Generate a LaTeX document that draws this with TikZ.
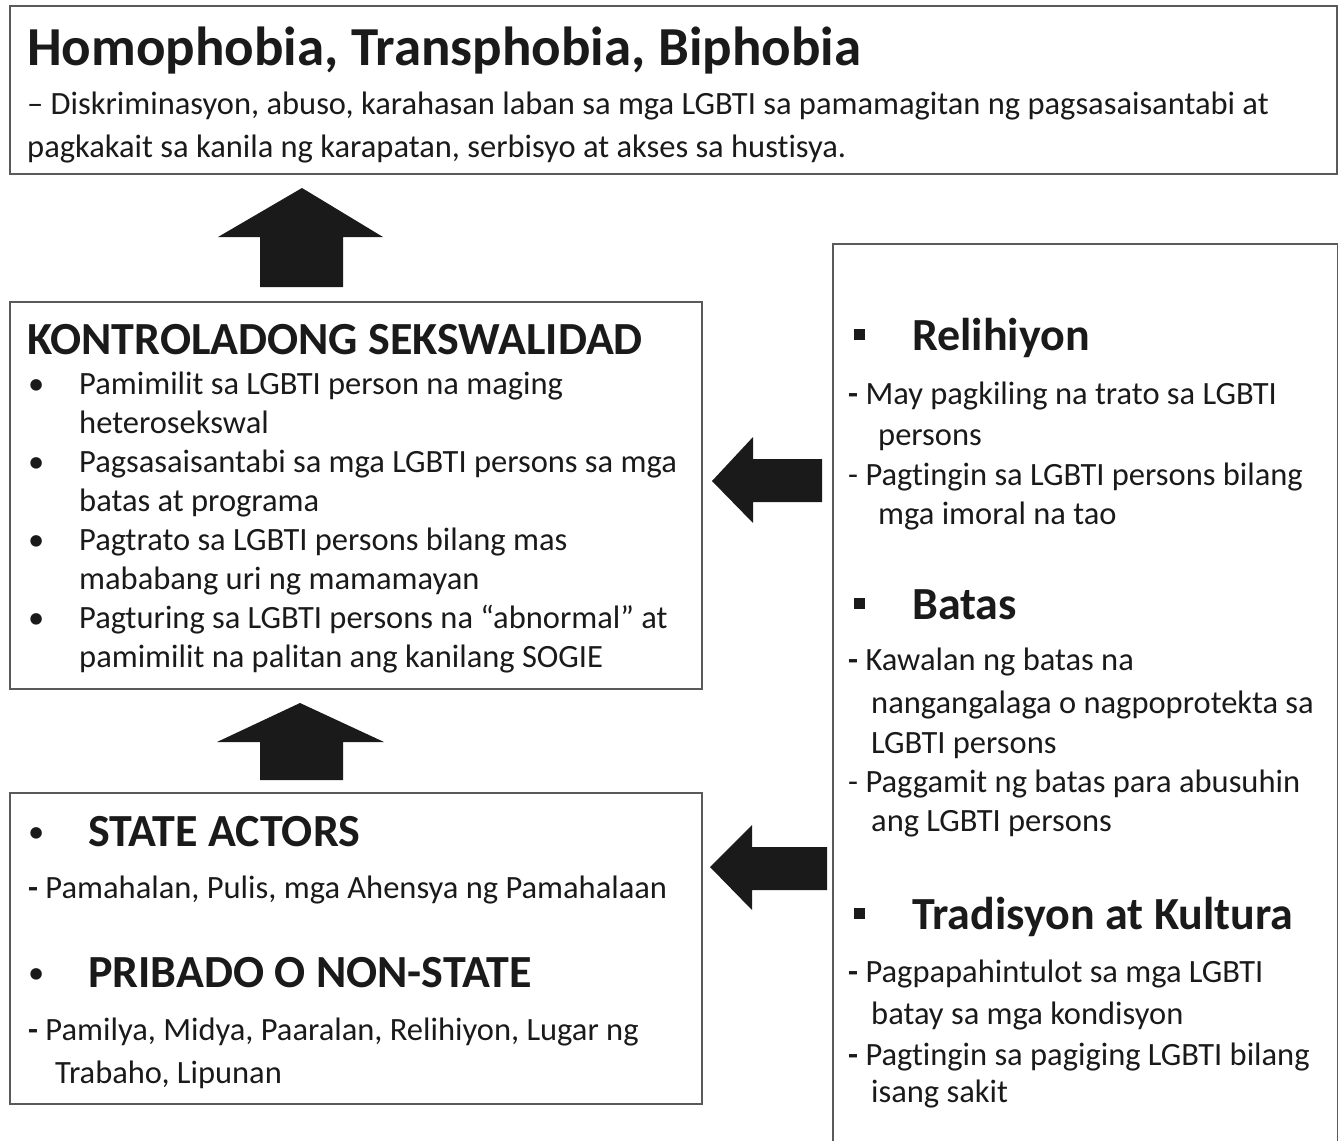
\documentclass[tikz,border=0pt]{standalone}
\usepackage{fontspec}
\setmainfont{Carlito}[Ligatures=NoCommon]
\definecolor{ink}{HTML}{1A1A1A}
\definecolor{frame}{HTML}{5A5A5A}
\tikzset{
	panel/.style={draw=frame, line width=1.8pt, anchor=north west, inner sep=0pt},
	txt/.style={anchor=base west, inner sep=0pt, text=ink, font=\fontsize{32.5}{38}\selectfont},
	head/.style={txt, font=\fontsize{46}{54}\selectfont\bfseries},
	sqbullet/.style={fill=ink, minimum size=11pt, inner sep=0pt},
	blockarrow/.style={fill=ink}
}
\begin{document}
\begin{tikzpicture}[x=1pt, y=-1pt]
		\useasboundingbox (0,0) rectangle (1338,1140);
		
		% Effect box
		\node[panel, minimum width=1327pt, minimum height=168pt] (effect) at (9,5) {};
		\node[txt, font=\fontsize{55}{62}\selectfont\bfseries] (effTitle) at (27,66) {Homophobia, Transphobia, Biphobia};
		\node[txt] (eff1) at (27,114) {– Diskriminasyon, abuso, karahasan laban sa mga LGBTI sa pamamagitan ng pagsasaisantabi at};
		\node[txt] (eff2) at (27,157) {pagkakait sa kanila ng karapatan, serbisyo at akses sa hustisya.};
		
		% Controlled sexuality box
		\node[panel, minimum width=692pt, minimum height=387pt] (control) at (9,301) {};
		\node[head] (ctlTitle) at (27,354) {KONTROLADONG SEKSWALIDAD};
		\node[txt] (ctlB1) at (28,394) {•};
		\node[txt] (ctl1) at (79,394) {Pamimilit sa LGBTI person na maging};
		\node[txt] (ctl2) at (79,433) {heterosekswal};
		\node[txt] (ctlB2) at (28,472) {•};
		\node[txt] (ctl3) at (79,472) {Pagsasaisantabi sa mga LGBTI persons sa mga};
		\node[txt] (ctl4) at (79,511) {batas at programa};
		\node[txt] (ctlB3) at (28,550) {•};
		\node[txt] (ctl5) at (79,550) {Pagtrato sa LGBTI persons bilang mas};
		\node[txt] (ctl6) at (79,589) {mababang uri ng mamamayan};
		\node[txt] (ctlB4) at (28,628) {•};
		\node[txt] (ctl7) at (79,628) {Pagturing sa LGBTI persons na “abnormal” at};
		\node[txt] (ctl8) at (79,667) {pamimilit na palitan ang kanilang SOGIE};
		
		% Actors box
		\node[panel, minimum width=692pt, minimum height=311pt] (actors) at (9,792) {};
		\node[txt] (actB1) at (28,842) {•};
		\node[head] (actTitle1) at (88,846) {STATE ACTORS};
		\node[txt] (act1) at (28,898) {\textbf{-} Pamahalan, Pulis, mga Ahensya ng Pamahalaan};
		\node[txt] (actB2) at (28,983) {•};
		\node[head] (actTitle2) at (88,987) {PRIBADO O NON-STATE};
		\node[txt] (act2) at (28,1040) {\textbf{-} Pamilya, Midya, Paaralan, Relihiyon, Lugar ng};
		\node[txt] (act3) at (55,1083) {Trabaho, Lipunan};
		
		% Factors box (runs off the bottom)
		\node[panel, minimum width=505pt, minimum height=920pt] (factors) at (832,243) {};
		\node[sqbullet] (facB1) at (859,334) {};
		\node[head] (facTitle1) at (912,350) {Relihiyon};
		\node[txt] (fac1) at (848,404) {\textbf{-} May pagkiling na trato sa LGBTI};
		\node[txt] (fac2) at (878,445) {persons};
		\node[txt] (fac3) at (848,485) {- Pagtingin sa LGBTI persons bilang};
		\node[txt] (fac4) at (878,524) {mga imoral na tao};
		\node[sqbullet] (facB2) at (859,603) {};
		\node[head] (facTitle2) at (912,619) {Batas};
		\node[txt] (fac5) at (848,670) {\textbf{-} Kawalan ng batas na};
		\node[txt] (fac6) at (871,713) {nangangalaga o nagpoprotekta sa};
		\node[txt] (fac7) at (871,753) {LGBTI persons};
		\node[txt] (fac8) at (848,792) {- Paggamit ng batas para abusuhin};
		\node[txt] (fac9) at (871,831) {ang LGBTI persons};
		\node[sqbullet] (facB3) at (859,913) {};
		\node[head] (facTitle3) at (912,929) {Tradisyon at Kultura};
		\node[txt] (fac10) at (848,982) {\textbf{-} Pagpapahintulot sa mga LGBTI};
		\node[txt] (fac11) at (871,1024) {batay sa mga kondisyon};
		\node[txt] (fac12) at (848,1065) {\textbf{-} Pagtingin sa pagiging LGBTI bilang};
		\node[txt] (fac13) at (871,1102) {isang sakit};
		
		% Arrow control -> effect
		\coordinate (up1) at (302,188);
		\fill[blockarrow] (up1) -- ++(81,49) -- ++(-40,0) -- ++(0,50) -- ++(-83,0) -- ++(0,-50) -- ++(-42,0) -- cycle;
		
		% Arrow actors -> control
		\coordinate (up2) at (300,703);
		\fill[blockarrow] (up2) -- ++(84,39) -- ++(-41,0) -- ++(0,38) -- ++(-83,0) -- ++(0,-38) -- ++(-43,0) -- cycle;
		
		% Arrows factors -> control, factors -> actors
		\coordinate (left1) at (712,481);
		\fill[blockarrow] (left1) -- ++(41,-44) -- ++(0,22) -- ++(69,0) -- ++(0,43) -- ++(-69,0) -- ++(0,21) -- cycle;
		\coordinate (left2) at (710,867);
		\fill[blockarrow] (left2) -- ++(42,-42) -- ++(0,22) -- ++(75,0) -- ++(0,43) -- ++(-75,0) -- ++(0,20) -- cycle;
		
	\end{tikzpicture}
\end{document}
